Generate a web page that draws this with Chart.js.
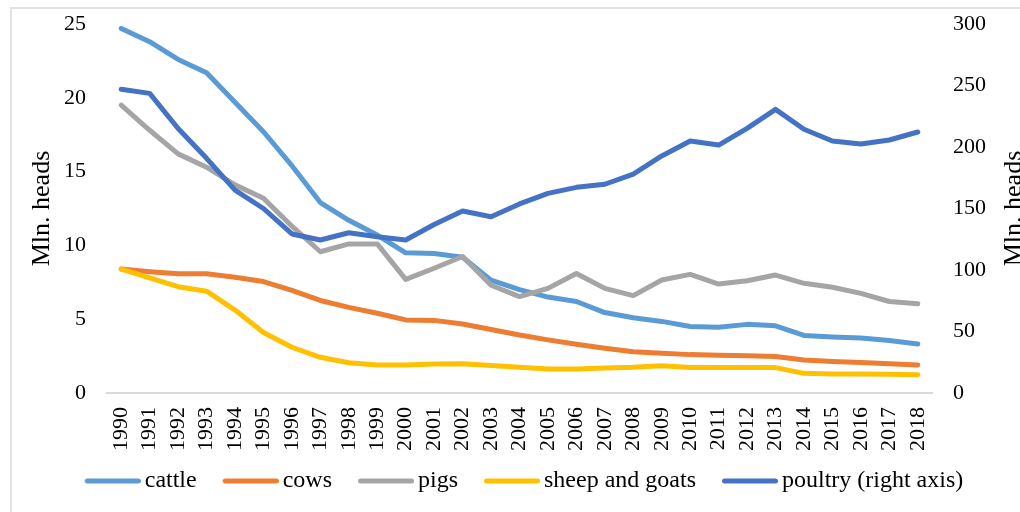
<!DOCTYPE html>
<html>
<head>
<meta charset="utf-8">
<script src="https://cdn.jsdelivr.net/npm/chart.js@4/dist/chart.umd.min.js"></script>
<style>
  html, body { margin: 0; padding: 0; background: #fff; overflow: hidden; width: 1020px; height: 512px; }
  #frame { position: absolute; left: 10px; top: 7px; width: 1100px; height: 600px; border: 2px solid #e2e2e2; box-sizing: border-box; }
  #chart { position: absolute; left: 0; top: 0; }
</style>
</head>
<body>
<div id="frame"></div>
<canvas id="chart" width="1028" height="512"></canvas>
<script>
// Livestock numbers, million heads
const years = ['1990','1991','1992','1993','1994','1995','1996','1997','1998','1999',
  '2000','2001','2002','2003','2004','2005','2006','2007','2008','2009',
  '2010','2011','2012','2013','2014','2015','2016','2017','2018'];

const cattle = [24.7, 23.8, 22.6, 21.7, 19.7, 17.7, 15.4, 12.9, 11.7, 10.7,
  9.5, 9.45, 9.2, 7.65, 7.0, 6.5, 6.2, 5.45, 5.1, 4.85,
  4.5, 4.45, 4.65, 4.55, 3.9, 3.8, 3.72, 3.55, 3.32];

const cows = [8.4, 8.22, 8.08, 8.08, 7.84, 7.55, 6.95, 6.27, 5.8, 5.4,
  4.95, 4.92, 4.67, 4.3, 3.93, 3.6, 3.3, 3.03, 2.8, 2.7,
  2.6, 2.56, 2.53, 2.47, 2.24, 2.13, 2.06, 1.98, 1.9];

const pigs = [19.5, 17.8, 16.2, 15.3, 14.1, 13.2, 11.3, 9.57, 10.1, 10.1,
  7.7, 8.45, 9.25, 7.3, 6.53, 7.09, 8.1, 7.09, 6.6, 7.66,
  8.04, 7.38, 7.61, 7.99, 7.43, 7.16, 6.75, 6.2, 6.05];

const sheepGoats = [8.4, 7.8, 7.2, 6.9, 5.62, 4.1, 3.1, 2.42, 2.05, 1.9,
  1.9, 1.96, 1.98, 1.86, 1.75, 1.62, 1.62, 1.69, 1.74, 1.85,
  1.73, 1.72, 1.72, 1.72, 1.33, 1.29, 1.29, 1.27, 1.24];

const poultry = [247, 243.6, 215, 190.8, 165, 150, 129.3, 124.4, 130.3, 127.1,
  124.4, 137, 148, 143.3, 153.7, 162.3, 167.2, 169.7, 178, 192.7,
  204.9, 201.6, 215.2, 230.6, 214.4, 204.9, 202.4, 205.7, 212.2];

const seriesNames = ['cattle', 'cows', 'pigs', 'sheep and goats', 'poultry (right axis)'];
const seriesColors = ['#5B9BD5', '#ED7D31', '#A5A5A5', '#FFC000', '#4472C4'];

const leftTicks = { min: 0, max: 25, step: 5 };
const rightTicks = { min: 0, max: 300, step: 50 };
const axisTitle = 'Mln. heads';

const FONT = "'Liberation Serif', 'Times New Roman', serif";
Chart.defaults.font.family = FONT;
Chart.defaults.color = '#000';

// Legend marker: a short rounded stroke placed right next to its label,
// with empty room on its left that acts as the gap to the previous entry
const MARK_W = 84, MARK_LINE_FROM = 28;
function legendStroke(color) {
  const c = document.createElement('canvas');
  c.width = MARK_W; c.height = 6;
  const g = c.getContext('2d');
  g.strokeStyle = color;
  g.lineWidth = 5;
  g.lineCap = 'round';
  g.beginPath();
  g.moveTo(MARK_LINE_FROM + 2.5, 3);
  g.lineTo(MARK_W - 2.5, 3);
  g.stroke();
  return c;
}
const legendMarks = seriesColors.map(legendStroke);

function line(label, data, color, axis, order) {
  return {
    label, data, yAxisID: axis, order,
    borderColor: color, backgroundColor: color,
    borderWidth: 5, pointRadius: 0, tension: 0,
    borderCapStyle: 'round', borderJoinStyle: 'round', fill: false
  };
}

// Right-hand axis title, reading bottom to top like the left one
const rightTitle = {
  id: 'rightTitle',
  afterDraw(chart) {
    const { ctx, chartArea } = chart;
    ctx.save();
    ctx.translate(1014, (chartArea.top + chartArea.bottom) / 2);
    ctx.rotate(-Math.PI / 2);
    ctx.font = '26px ' + FONT;
    ctx.fillStyle = '#000';
    ctx.textAlign = 'center';
    ctx.textBaseline = 'middle';
    ctx.fillText(axisTitle, 0, 0);
    ctx.restore();
  }
};

// Value axes: no grid or tick marks; the hidden tick length keeps labels off the plot
const hiddenGrid = { display: false, drawTicks: true, tickLength: 21 };

new Chart(document.getElementById('chart'), {
  type: 'line',
  data: {
    labels: years,
    datasets: [
      line(seriesNames[0], cattle, seriesColors[0], 'y', 4),
      line(seriesNames[1], cows, seriesColors[1], 'y', 3),
      line(seriesNames[2], pigs, seriesColors[2], 'y', 2),
      line(seriesNames[3], sheepGoats, seriesColors[3], 'y', 1),
      line(seriesNames[4], poultry, seriesColors[4], 'y1', 0)
    ]
  },
  options: {
    responsive: false,
    animation: false,
    devicePixelRatio: 1,
    layout: { padding: { left: 0, right: 0, top: 24, bottom: 9 } },
    plugins: {
      tooltip: { enabled: false },
      legend: {
        position: 'bottom',
        labels: {
          usePointStyle: true,
          pointStyleWidth: 68,
          boxHeight: 5,
          padding: 6,
          color: '#000',
          font: { size: 24, family: FONT },
          sort: (a, b) => a.datasetIndex - b.datasetIndex,
          generateLabels(chart) {
            const items = Chart.defaults.plugins.legend.labels.generateLabels(chart);
            items.forEach(it => { it.pointStyle = legendMarks[it.datasetIndex]; });
            return items;
          }
        }
      }
    },
    scales: {
      x: {
        offset: true,
        grid: { display: false, drawTicks: false },
        border: { display: true, color: '#d9d9d9', width: 2 },
        ticks: {
          autoSkip: false, maxRotation: 90, minRotation: 90, padding: 14,
          color: '#000', font: { size: 22 }
        },
        afterFit(s) { s.height = 70; }
      },
      y: {
        position: 'left',
        min: leftTicks.min, max: leftTicks.max,
        grid: hiddenGrid,
        border: { display: false },
        ticks: { stepSize: leftTicks.step, padding: 0, color: '#000', font: { size: 22 } },
        title: { display: true, text: axisTitle, color: '#000', font: { size: 26 }, padding: { top: 27, bottom: 0 } },
        afterFit(s) { s.width = 107; }
      },
      y1: {
        position: 'right',
        min: rightTicks.min, max: rightTicks.max,
        grid: hiddenGrid,
        border: { display: false },
        ticks: { stepSize: rightTicks.step, padding: 0, color: '#000', font: { size: 22 } },
        afterFit(s) { s.width = 96; }
      }
    }
  },
  plugins: [rightTitle]
});
</script>
</body>
</html>
